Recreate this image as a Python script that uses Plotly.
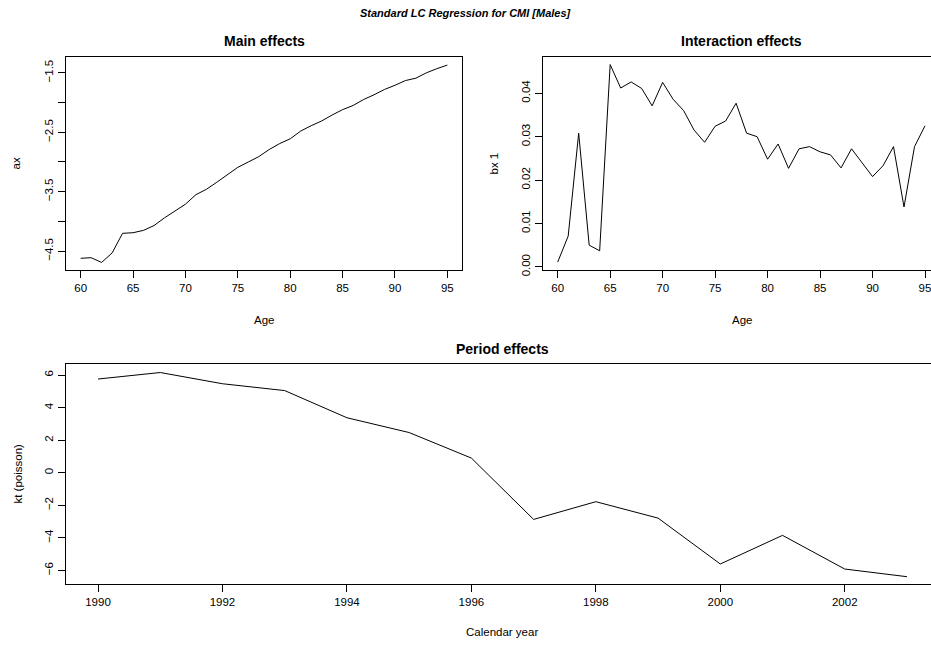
import plotly.graph_objects as go

# ---- data ----
ages = list(range(60, 96))
ax_vals = [-4.62, -4.61, -4.69, -4.53, -4.20, -4.19, -4.15, -4.07, -3.94, -3.83,
           -3.71, -3.55, -3.46, -3.34, -3.22, -3.09, -3.00, -2.91, -2.79, -2.69,
           -2.61, -2.48, -2.39, -2.31, -2.21, -2.12, -2.05, -1.95, -1.87, -1.78,
           -1.71, -1.63, -1.59, -1.50, -1.43, -1.37]
bx_vals = [0.0011, 0.0071, 0.0308, 0.0050, 0.0037, 0.0466, 0.0412, 0.0426, 0.0411, 0.0371,
           0.0425, 0.0386, 0.0360, 0.0315, 0.0287, 0.0324, 0.0336, 0.0377, 0.0308, 0.0300,
           0.0248, 0.0283, 0.0227, 0.0272, 0.0277, 0.0265, 0.0258, 0.0228, 0.0272, 0.0240,
           0.0208, 0.0233, 0.0277, 0.0138, 0.0277, 0.0325]
years = list(range(1990, 2004))
kt_vals = [5.76, 6.16, 5.47, 5.05, 3.38, 2.47, 0.90, -2.87, -1.78, -2.79, -5.61, -3.85, -5.92, -6.39]

age_ticks = [60, 65, 70, 75, 80, 85, 90, 95]
ax_ticks = [-4.5, -4.0, -3.5, -3.0, -2.5, -2.0, -1.5]
ax_ticktext = ["\u22124.5", "", "\u22123.5", "", "\u22122.5", "", "\u22121.5"]
bx_ticks = [0.00, 0.01, 0.02, 0.03, 0.04]
bx_ticktext = ["0.00", "0.01", "0.02", "0.03", "0.04"]
year_ticks = [1990, 1992, 1994, 1996, 1998, 2000, 2002]
kt_ticks = [-6, -4, -2, 0, 2, 4, 6]
kt_ticktext = ["\u22126", "\u22124", "\u22122", "0", "2", "4", "6"]

W, H = 931, 648
FONT = "Liberation Sans, Arial, sans-serif"


def px(x):
    return x / W


def py(y):
    return 1 - y / H


fig = go.Figure()
line = dict(color="black", width=1)
fig.add_trace(go.Scatter(x=ages, y=ax_vals, mode="lines", line=line, xaxis="x", yaxis="y", showlegend=False))
fig.add_trace(go.Scatter(x=ages, y=bx_vals, mode="lines", line=line, xaxis="x2", yaxis="y2", showlegend=False))
fig.add_trace(go.Scatter(x=years, y=kt_vals, mode="lines", line=line, xaxis="x3", yaxis="y3", showlegend=False))

tickfont = dict(family=FONT, size=11.5, color="black")
common = dict(showgrid=False, zeroline=False, showline=True, linecolor="black", linewidth=1,
              ticks="outside", ticklen=7, tickwidth=1, tickcolor="black", tickfont=tickfont,
              fixedrange=True, ticklabeloverflow="allow")

fig.update_layout(
    width=W, height=H,
    margin=dict(l=0, r=0, t=0, b=0),
    paper_bgcolor="white", plot_bgcolor="white",
    showlegend=False,
    xaxis=dict(domain=[px(66), px(462)], range=[58.6, 96.4], tickvals=age_ticks,
               anchor="y", mirror=True, **common),
    yaxis=dict(domain=[py(272.7), py(57.3)], range=[-4.82, -1.23], tickvals=ax_ticks,
               ticktext=ax_ticktext, tickangle=-90, anchor="x", mirror=True, **common),
    xaxis2=dict(domain=[px(542.7), 1.0], range=[58.571, 95.572], tickvals=age_ticks,
                anchor="y2", mirror=True, **common),
    yaxis2=dict(domain=[py(272.7), py(57.3)], range=[-0.00076, 0.0484], tickvals=bx_ticks,
                ticktext=bx_ticktext, tickangle=-90, anchor="x2", mirror=False, **common),
    xaxis3=dict(domain=[px(65.6), 1.0], range=[1989.479, 2003.386], tickvals=year_ticks,
                anchor="y3", mirror=True, **common),
    yaxis3=dict(domain=[py(589.3), py(367.3)], range=[-6.83, 6.69], tickvals=kt_ticks,
                ticktext=kt_ticktext, tickangle=-90, anchor="x3", mirror=False, **common),
)

ann = []


def text(t, x, y, size, angle=0):
    ann.append(dict(text=t, x=px(x), y=py(y), xref="paper", yref="paper", showarrow=False,
                    xanchor="center", yanchor="middle", textangle=angle,
                    font=dict(family=FONT, size=size, color="black")))


text("<b><i>Standard LC Regression for CMI [Males]</i></b>", 465.5, 13, 11)
text("<b>Main effects</b>", 264, 41, 14)
text("<b>Interaction effects</b>", 741.3, 41, 14)
text("<b>Period effects</b>", 502.5, 352, 14)
text("Age", 264, 323, 11.5)
text("Age", 741.7, 323, 11.5)
text("ax", 16, 165, 11.5, -90)
text("bx 1", 494, 165, 11.5, -90)
text("kt (poisson)", 18, 478, 11.5, -90)
text("Calendar year", 502, 638, 11.5)
fig.update_layout(annotations=ann)

fig.write_html("out.html")
